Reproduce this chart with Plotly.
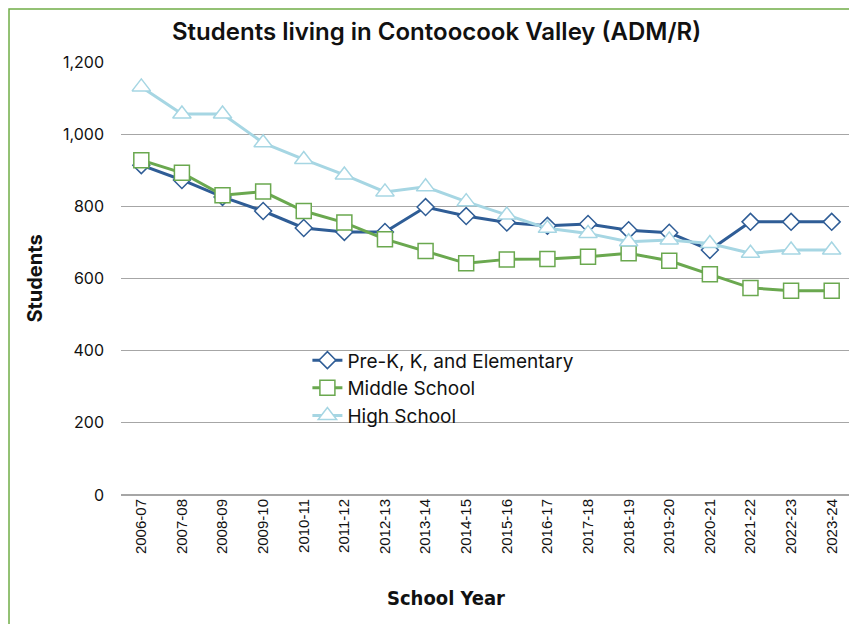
import plotly.graph_objects as go

years = ["2006-07", "2007-08", "2008-09", "2009-10", "2010-11", "2011-12",
         "2012-13", "2013-14", "2014-15", "2015-16", "2016-17", "2017-18",
         "2018-19", "2019-20", "2020-21", "2021-22", "2022-23", "2023-24"]

elementary = [914, 873, 826, 787, 740, 729, 729, 798, 773, 755, 746, 751,
              734, 727, 679, 757, 757, 757]
middle = [928, 893, 831, 841, 787, 755, 709, 676, 642, 653, 654, 660,
          670, 649, 612, 574, 566, 566]
high = [1131, 1056, 1056, 976, 930, 887, 840, 854, 813, 776, 739, 725,
        702, 707, 697, 670, 679, 679]

BLUE = "#2F5D96"
GREEN = "#6AA84F"
LIGHT = "#A6D6E3"

fig = go.Figure()

series = [
    ("Pre-K, K, and Elementary", elementary, BLUE, "diamond", 13),
    ("Middle School", middle, GREEN, "square", 15),
    ("High School", high, LIGHT, "triangle-up", 16),
]
for name, vals, col, sym, sz in series:
    fig.add_trace(go.Scatter(
        x=years, y=vals, name=name, mode="lines+markers",
        line=dict(color=col, width=3),
        marker=dict(symbol=sym, size=sz, color="white",
                    line=dict(color=col, width=1.5)),
    ))

# page has an 8px offset, so the figure is a bit smaller than the window
fig.update_layout(
    width=849, height=616,
    margin=dict(l=113, r=5, t=54, b=129),
    paper_bgcolor="white", plot_bgcolor="white",
    showlegend=True,
    legend=dict(x=0.255, y=0.355, xanchor="left", yanchor="top",
                bgcolor="rgba(0,0,0,0)",
                font=dict(family="Inter", size=19, color="#111"),
                tracegroupgap=0),
    font=dict(family="Inter", color="#111"),
)

fig.update_xaxes(
    type="category", range=[-0.5, 17.5], showgrid=False, showline=False,
    tickangle=-90, ticks="",
    tickfont=dict(family="Liberation Sans", size=15, color="#111"),
)
fig.update_yaxes(
    range=[0, 1200], dtick=200, tickformat=",", showline=False,
    gridcolor="#A6A6A6", gridwidth=1, zeroline=True, zerolinecolor="#A6A6A6",
    ticks="", ticklabelstandoff=16,
    tickfont=dict(family="Inter", size=16, color="#111"),
    title=dict(text="<b>Students</b>", standoff=14,
               font=dict(family="Inter", size=20, color="#111")),
)

# white patch behind the legend hides the gridlines
fig.add_shape(type="rect", xref="paper", yref="y", x0=0.197, x1=0.698,
              y0=150, y1=440, fillcolor="white", line=dict(width=0),
              layer="between")

# outer green border
fig.add_shape(type="rect", xref="paper", yref="paper", x0=-0.1532, x1=1.3,
              y0=-0.5, y1=1.1224, line=dict(color="#70AD47", width=1.5),
              fillcolor="rgba(0,0,0,0)")

fig.add_annotation(text="Students living in Contoocook Valley (ADM/R)",
                   xref="paper", yref="paper", x=0.431, y=1.07,
                   showarrow=False, xanchor="center", yanchor="middle",
                   font=dict(family="Inter", size=24, color="#111",
                             weight=600))
fig.add_annotation(text="<b>School Year</b>", xref="paper", yref="paper",
                   x=0.445, y=-0.238, showarrow=False,
                   xanchor="center", yanchor="middle",
                   font=dict(family="DejaVu Sans Condensed, Liberation Sans",
                             size=20, color="#111"))

fig.write_html("out.html")
